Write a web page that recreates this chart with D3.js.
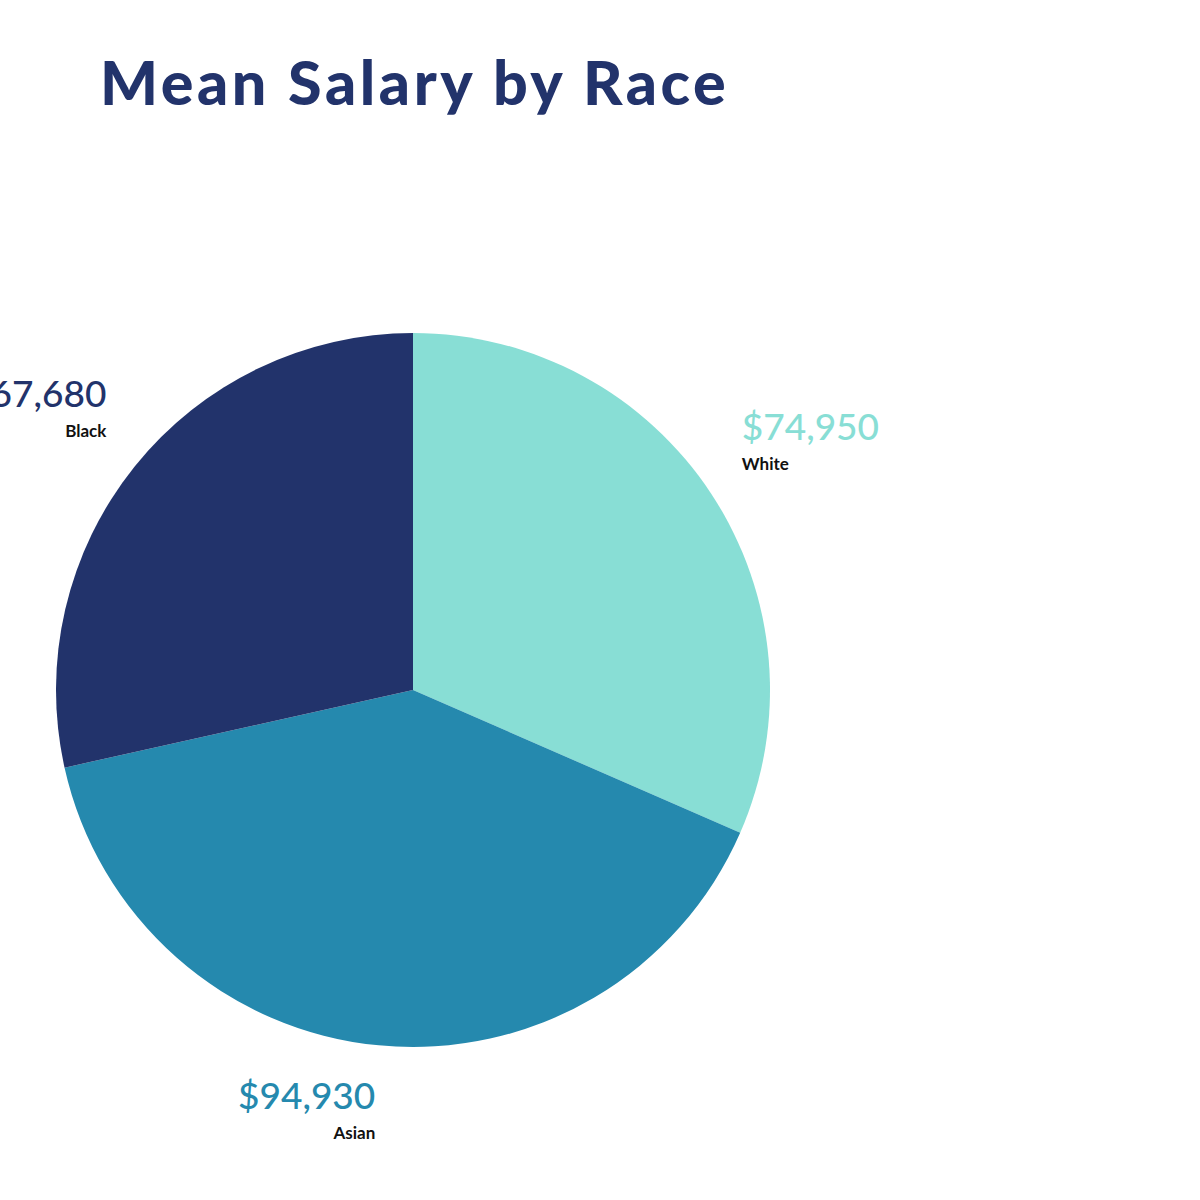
<!DOCTYPE html>
<html>
<head>
<meta charset="utf-8">
<script src="https://cdn.jsdelivr.net/npm/d3@7"></script>
<style>
  html, body { margin: 0; padding: 0; background: #fff; }
  svg { display: block; }
</style>
</head>
<body>
<div id="chart"></div>
<script>
// ============================================================================
// MEAN SALARY BY RACE - pie chart with outside value labels
// ============================================================================

const categories = ['White', 'Asian', 'Black'];
const salaries = [74950, 94930, 67680];
const sliceColors = ['#88ded5', '#2589ae', '#22336b'];

const width = 1200;
const height = 1200;
const center = { x: 413, y: 690 };
const radius = 357;
const labelRadius = 393;

// vertical offset of the value baseline from the label anchor
const labelShift = { White: -35, Asian: 28, Black: -37 };

const svg = d3.select('#chart').append('svg')
    .attr('width', width)
    .attr('height', height);

svg.append('text')
    .attr('x', 100)
    .attr('y', 105)
    .attr('font-family', 'Lato, "DejaVu Sans", sans-serif')
    .attr('font-weight', 900)
    .attr('font-size', 61)
    .attr('letter-spacing', 3.6)
    .attr('fill', '#22336b')
    .text('Mean Salary by Race');

const data = categories.map((c, i) => ({ name: c, value: salaries[i], color: sliceColors[i] }));

const pie = d3.pie()
    .sort(null)
    .value(d => d.value);

const arc = d3.arc()
    .innerRadius(0)
    .outerRadius(radius);

const labelArc = d3.arc()
    .innerRadius(labelRadius)
    .outerRadius(labelRadius);

const g = svg.append('g')
    .attr('transform', `translate(${center.x},${center.y})`);

const arcs = pie(data);

g.selectAll('path.slice')
    .data(arcs)
    .join('path')
    .attr('class', 'slice')
    .attr('d', arc)
    .attr('fill', d => d.data.color);

const fmt = d3.format('$,');

const labels = g.selectAll('g.label')
    .data(arcs)
    .join('g')
    .attr('class', 'label')
    .attr('transform', d => {
        const [x, y] = labelArc.centroid(d);
        return `translate(${x},${y + labelShift[d.data.name]})`;
    });

labels.append('text')
    .attr('text-anchor', d => labelArc.centroid(d)[0] < 0 ? 'end' : 'start')
    .attr('font-family', 'Lato, "DejaVu Sans", sans-serif')
    .attr('font-weight', 500)
    .attr('font-size', 37)
    .attr('fill', d => d.data.color)
    .text(d => fmt(d.data.value));

labels.append('text')
    .attr('y', 30)
    .attr('text-anchor', d => labelArc.centroid(d)[0] < 0 ? 'end' : 'start')
    .attr('font-family', 'Lato, "DejaVu Sans", sans-serif')
    .attr('font-weight', 700)
    .attr('font-size', 17)
    .attr('fill', '#111')
    .text(d => d.data.name);
</script>
</body>
</html>
